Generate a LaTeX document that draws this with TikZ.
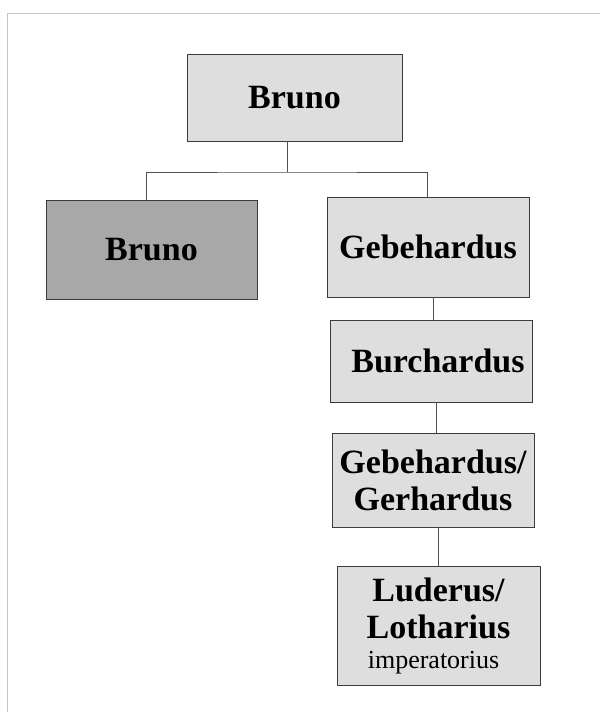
\documentclass[tikz,border=0pt]{standalone}
\usepackage{fontspec}
\setmainfont{Liberation Serif}
\usetikzlibrary{positioning}

\definecolor{boxlight}{HTML}{DEDEDE}
\definecolor{boxdark}{HTML}{A8A8A8}
\definecolor{boxline}{HTML}{3C3C3C}
\definecolor{linkline}{HTML}{505050}
\definecolor{frameline}{HTML}{C4C4C4}

\begin{document}
\begin{tikzpicture}[
x=1pt, y=-1pt,
person/.style={rectangle, draw=boxline, fill=boxlight, line width=0.9pt, inner sep=0pt,
  align=center, font=\fontsize{34}{37}\selectfont\bfseries},
heir/.style={person, fill=boxdark},
link/.style={draw=linkline, line width=0.9pt},
frame/.style={draw=frameline, line width=1pt},
]
\useasboundingbox (0,0) rectangle (600,712);
\draw[frame] (600,13) -- (7,13) -- (7,712);

\node[person, minimum width=215pt, minimum height=87pt]  (bruno)   at (294.5,97.5) {Bruno};
\node[heir,   minimum width=211pt, minimum height=99pt]  (brunojr) at (151.5,249.5) {Bruno};
\node[person, minimum width=202pt, minimum height=100pt] (geb)     at (428,247) {Gebehardus};
\node[person, minimum width=202pt, minimum height=82pt]  (burch)   at (431,361) {\hspace*{14pt}Burchardus};
\node[person, minimum width=202pt, minimum height=94pt]  (gebger)  at (433,480) {Gebehardus/\\Gerhardus};
\node[person, minimum width=203pt, minimum height=119pt] (luder)   at (438.5,626)
  {Luderus/\\Lotharius\\[-7pt]{\fontsize{26}{30}\selectfont\mdseries\hspace*{-10pt}imperatorius}};

\coordinate (fork) at (287,172);
\draw[link] ([xshift=-7.5pt]bruno.south) -- (fork);
\draw[link] ([xshift=-5.5pt]brunojr.north) |- (fork) -| ([xshift=-1pt]geb.north);
\draw[link] ([xshift=5pt]geb.south) -- ([xshift=5pt]geb.south |- burch.north);
\draw[link] ([xshift=5pt]burch.south) -- ([xshift=5pt]burch.south |- gebger.north);
\draw[link] ([xshift=5pt]gebger.south) -- ([xshift=5pt]gebger.south |- luder.north);

\end{tikzpicture}
\end{document}
